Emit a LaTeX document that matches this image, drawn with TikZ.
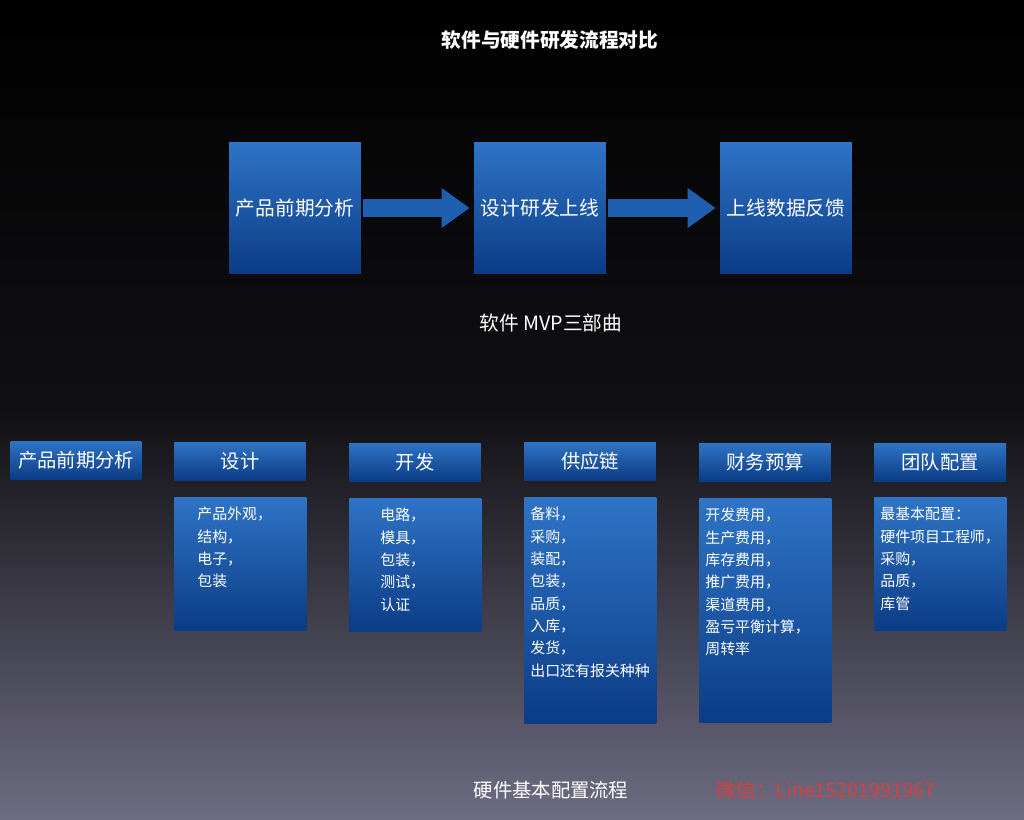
\documentclass[tikz,border=0pt]{standalone}
\usepackage{fontspec}
\setmainfont{Noto Sans CJK SC}
\usetikzlibrary{arrows.meta}
\definecolor{boxtop}{HTML}{2F74C6}
\definecolor{boxbot}{HTML}{0B3C86}
\definecolor{arrowblue}{HTML}{1F5FB0}
\definecolor{bgbot}{HTML}{6E6C82}
\definecolor{wxred}{HTML}{D8403E}
\tikzstyle{bluebox}=[draw=none, top color=boxtop, bottom color=boxbot, text=white, inner sep=0pt]
\tikzstyle{bigbox}=[bluebox, minimum width=2.64cm, minimum height=2.64cm, font=\fontsize{11.2}{13}\selectfont]
\tikzstyle{headbox}=[bluebox, minimum width=2.64cm, minimum height=0.76cm, font=\fontsize{11}{13}\selectfont]
\tikzstyle{listbox}=[bluebox, minimum width=2.64cm, anchor=north west]
\tikzstyle{listtext}=[text=white, anchor=north west, align=left, inner sep=0pt, font=\fontsize{8.5}{12.7}\selectfont]
\tikzstyle{arrow}=[draw=arrowblue, line width=0.36cm, -{Triangle[length=0.56cm, width=0.76cm]}, shorten <=0.04cm, shorten >=0.08cm]
\begin{document}
\begin{tikzpicture}[x=0.02cm, y=-0.02cm]
		   \begin{scope}
			   \shade[top color=black, bottom color=bgbot, middle color=black!85!bgbot] (0,0) rectangle (1024,819);
			   \useasboundingbox (0,0) rectangle (1024,819);
			   \node (title) at (550,40)[text=white, font=\bfseries\fontsize{11.2}{13}\selectfont] {软件与硬件研发流程对比};
		   \end{scope}
		   \begin{scope}
			   \node (ana) at (295,208)[bigbox] {产品前期分析};
			   \node (dev) at (540,208)[bigbox] {设计研发上线};
			   \node (fb) at (786,208)[bigbox] {上线数据反馈};
			   \path[arrow] (ana.east) -- (dev.west);
			   \path[arrow] (dev.east) -- (fb.west);
			   \node (mvp) at (551,323)[text=white, font=\fontsize{11.2}{13}\selectfont] {软件 MVP三部曲};
		   \end{scope}
		   \begin{scope}
			   \node (h0) at (76,460)[headbox, minimum width=2.62cm] {产品前期分析};
			   \node (h1) at (240,461)[headbox] {设计};
			   \node (h2) at (415,462)[headbox] {开发};
			   \node (h3) at (590,461)[headbox] {供应链};
			   \node (h4) at (765,462)[headbox] {财务预算};
			   \node (h5) at (940,462)[headbox] {团队配置};
		   \end{scope}
		   \begin{scope}
			   \node (b1) at (174,497)[listbox, minimum height=2.66cm] {};
			   \node (b2) at (349,498)[listbox, minimum height=2.66cm] {};
			   \node (b3) at (524,497)[listbox, minimum height=4.52cm] {};
			   \node (b4) at (699,498)[listbox, minimum height=4.48cm] {};
			   \node (b5) at (874,497)[listbox, minimum height=2.66cm] {};
			   \node (t1) at (197,507)[listtext] {产品外观，\\结构，\\电子，\\包装};
			   \node (t2) at (380,508)[listtext] {电路，\\模具，\\包装，\\测试，\\认证};
			   \node (t3) at (530,507)[listtext] {备料，\\采购，\\装配，\\包装，\\品质，\\入库，\\发货，\\出口还有报关种种};
			   \node (t4) at (705,508)[listtext] {开发费用，\\生产费用，\\库存费用，\\推广费用，\\渠道费用，\\盈亏平衡计算，\\周转率};
			   \node (t5) at (880,507)[listtext] {最基本配置：\\硬件项目工程师，\\采购，\\品质，\\库管};
		   \end{scope}
		   \node (hw) at (551,790)[text=white, font=\fontsize{11}{13}\selectfont] {硬件基本配置流程};
		   \node (wx) at (826,790)[text=wxred, font=\fontsize{11.2}{13}\selectfont] {微信：Line15201991967};
	   \end{tikzpicture}
\end{document}
